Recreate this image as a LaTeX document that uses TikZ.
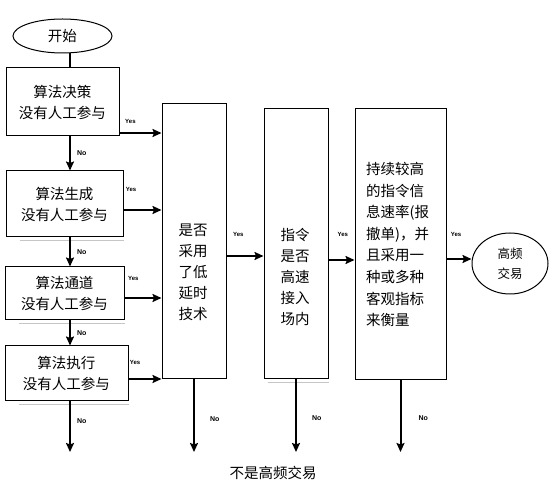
\documentclass[tikz,border=0pt]{standalone}
\usepackage{fontspec}
\setmainfont{Liberation Sans}
\newfontfamily\cjk{Noto Sans CJK SC}
\usepackage{tikz}
\usetikzlibrary{arrows.meta,shapes.geometric}

\tikzset{
  box/.style={draw,line width=1pt,inner sep=0pt},
  txt/.style={font=\cjk\fontsize{14.5}{21}\selectfont,align=center,inner sep=0pt},
  arr/.style={line width=2pt,-{Stealth[length=9pt,width=8pt,inset=1.5pt]}},
  yes/.style={font=\bfseries\fontsize{6}{7}\selectfont,inner sep=0pt},
  no/.style={font=\bfseries\fontsize{7}{8}\selectfont,inner sep=0pt},
  shadowline/.style={gray!45,line width=1.5pt}
}

\begin{document}
\begin{tikzpicture}[x=1pt,y=-1pt]
        \useasboundingbox (0,0) rectangle (550,502);
        % left column
        \node[ellipse,draw,line width=1pt,minimum width=99pt,minimum height=34pt,txt] (start) at (62.5,36) {开始};
        \node[box,txt,minimum width=113pt,minimum height=68pt] (b1) at (62.5,102) {算法决策\\没有人工参与};
        \node[box,txt,minimum width=117pt,minimum height=66pt] (b2) at (64.5,204) {算法生成\\没有人工参与};
        \node[box,txt,minimum width=119pt,minimum height=53pt] (b3) at (64.5,293.5) {算法通道\\没有人工参与};
        \node[box,txt,minimum width=123pt,minimum height=55pt] (b4) at (66.5,373.5) {算法执行\\没有人工参与};
        \draw[shadowline] ([xshift=14pt,yshift=-3pt]b2.south west) -- ([yshift=-3pt]b2.south east);
        \draw[shadowline] ([xshift=14pt,yshift=-3pt]b3.south west) -- ([yshift=-3pt]b3.south east);
        \draw[shadowline] ([xshift=14pt,yshift=-3pt]b4.south west) -- ([yshift=-3pt]b4.south east);
        % tall boxes
        \node[box,minimum width=64pt,minimum height=275pt] (lat) at (194,241.5) {};
        \node[txt] (lat-t) at (193,272.5) {是否\\采用\\了低\\延时\\技术};
        \node[box,minimum width=64pt,minimum height=270pt] (spd) at (296,244) {};
        \node[txt] (spd-t) at (295,276.5) {指令\\是否\\高速\\接入\\场内};
        \draw[shadowline] ([xshift=4pt,yshift=-3pt]spd.south west) -- ([yshift=-3pt]spd.south east);
        \node[box,minimum width=91pt,minimum height=271pt] (rate) at (400.5,244.5) {};
        \node[txt,align=left,anchor=west,font=\cjk\fontsize{14.5}{21.6}\selectfont] (rate-t) at (366,244.5) {持续较高\\的指令信\\息速率(报\\撤单)，并\\且采用一\\种或多种\\客观指标\\来衡量};
        \node[ellipse,draw,line width=1pt,minimum width=76pt,minimum height=61pt,inner sep=0pt,align=center,font=\cjk\fontsize{12.5}{20}\selectfont] (hft) at (510,263.5) {高频\\交易};
        \node[txt] (nohft) at (273,473) {不是高频交易};
        \coordinate (col) at (70,0);
        \coordinate (bot) at (0,452);
        % No branches
        \draw[line width=2pt] (start.south -| col) -- (b1.north -| col);
        \draw[arr] (b1.south -| col) -- (b2.north -| col) node[no,midway,right=6pt] {No};
        \draw[arr] (b2.south -| col) -- (b3.north -| col) node[no,midway,right=6pt] {No};
        \draw[arr] (b3.south -| col) -- (b4.north -| col) node[no,midway,right=6pt] {No};
        \draw[arr] (b4.south -| col) -- (col |- bot) node[no,pos=0.38,right=6pt] {No};
        \draw[arr] (lat.south) -- (lat.south |- bot) node[no,pos=0.55,right=15pt] {No};
        \draw[arr] (spd.south) -- (spd.south |- bot) node[no,pos=0.53,right=15pt] {No};
        \draw[arr] (rate.south) -- (rate.south |- bot) node[no,pos=0.53,right=17pt] {No};
        % Yes branches
        \path ([yshift=-31pt]b1.east) coordinate (y1);
        \path ([yshift=-6pt]b2.east) coordinate (y2);
        \path ([yshift=-4.5pt]b3.east) coordinate (y3);
        \path ([yshift=-5.5pt]b4.east) coordinate (y4);
        \draw[arr] (y1) -- (y1 -| lat.west) node[yes,pos=0.26,above=8pt] {Yes};
        \draw[arr] (y2) -- (y2 -| lat.west) node[yes,pos=0.2,above=17pt] {Yes};
        \draw[arr] (y3) -- (y3 -| lat.west) node[yes,pos=0.24,above=16pt] {Yes};
        \draw[arr] (y4) -- (y4 -| lat.west) node[yes,pos=0.2,above=13pt] {Yes};
        \path ([yshift=-14.5pt]lat.east) coordinate (y5);
        \path ([yshift=-16pt]spd.east) coordinate (y6);
        \path ([yshift=-14.5pt]rate.east) coordinate (y7);
        \draw[arr] (y5) -- (y5 -| spd.west) node[yes,pos=0.32,above=18pt] {Yes};
        \draw[arr] (y6) -- (y6 -| rate.west) node[yes,pos=0.55,above=22pt] {Yes};
        \draw[arr] (y7) -- (y7 -| hft.west) node[yes,pos=0.38,above=21pt] {Yes};
\end{tikzpicture}
\end{document}
